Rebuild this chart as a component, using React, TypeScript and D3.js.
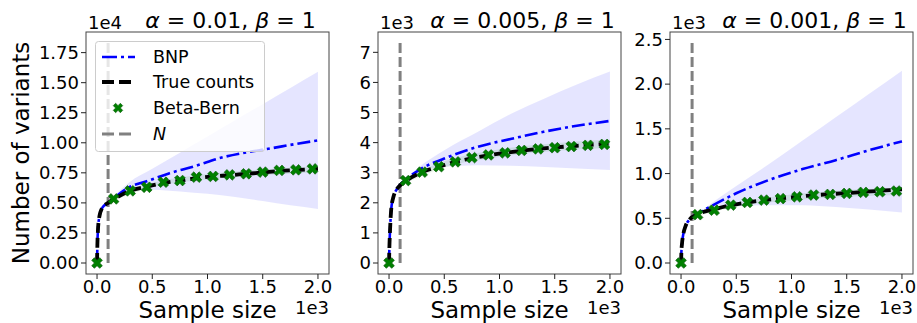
import * as d3 from 'd3';

type Pt = [number, number];
type Band = [number, number, number];

const W = 917;
const H = 323;
const FONT = 'DejaVu Sans, sans-serif';

// shared x data
const xTicks = [0, 500, 1000, 1500, 2000];
const markerN = [0, 150, 300, 450, 600, 750, 900, 1050, 1200, 1350, 1500, 1650, 1800, 1950];
const nTrain = 100;

// panel 1: alpha = 0.01
const p1True: Pt[] = [[0, 0], [3, 1500], [8, 2700], [18, 3700], [48, 4600], [100, 5000], [160, 5350], [300, 6000], [450, 6350], [600, 6650], [750, 6850], [900, 7050], [1050, 7200], [1200, 7300], [1350, 7420], [1500, 7530], [1650, 7650], [1800, 7730], [2000, 7830]];
const p1Bnp: Pt[] = [[0, 0], [3, 1500], [8, 2700], [18, 3700], [48, 4600], [100, 5000], [160, 5450], [290, 6300], [450, 6800], [650, 7450], [900, 8100], [1100, 8700], [1350, 9200], [1550, 9500], [1800, 9900], [2000, 10200]];
const p1Band: Band[] = [[120, 5150, 5150], [160, 5350, 5600], [290, 6000, 6700], [500, 6100, 7830], [750, 5950, 9180], [1000, 5750, 10520], [1250, 5500, 11870], [1500, 5150, 13210], [1750, 4800, 14560], [2000, 4500, 15900]];
const p1Bb: Band[] = [[150, 5200, 5450], [500, 6300, 6650], [1000, 6950, 7400], [1500, 7300, 7780], [2000, 7550, 8050]];
const p1Markers = [0, 5330, 6000, 6300, 6720, 6860, 7140, 7200, 7330, 7420, 7560, 7700, 7750, 7830];
const p1YTicks = [0, 2500, 5000, 7500, 10000, 12500, 15000, 17500];
const p1Top = 18300;

// panel 2: alpha = 0.005
const p2True: Pt[] = [[0, 0], [3, 500], [8, 1000], [20, 1800], [40, 2200], [70, 2450], [100, 2580], [157, 2740], [300, 3020], [450, 3200], [600, 3360], [750, 3480], [900, 3580], [1050, 3660], [1200, 3730], [1350, 3790], [1500, 3840], [1650, 3880], [1800, 3920], [2000, 3970]];
const p2Bnp: Pt[] = [[0, 0], [3, 500], [8, 1000], [20, 1800], [40, 2200], [70, 2450], [100, 2600], [160, 2800], [290, 3130], [500, 3470], [800, 3860], [1100, 4120], [1400, 4360], [1700, 4560], [2000, 4720]];
const p2Band: Band[] = [[150, 2780, 2780], [262, 3000, 3160], [500, 3200, 3750], [805, 3250, 4360], [1100, 3230, 4950], [1408, 3190, 5470], [1700, 3140, 5930], [2000, 3090, 6360]];
const p2Bb: Band[] = [[150, 2650, 2850], [500, 3170, 3380], [1000, 3520, 3780], [1500, 3720, 3980], [2000, 3820, 4100]];
const p2Markers = [0, 2740, 3020, 3200, 3360, 3500, 3590, 3660, 3740, 3790, 3830, 3870, 3910, 3940];
const p2YTicks = [0, 1000, 2000, 3000, 4000, 5000, 6000, 7000];
const p2Top = 7310;

// panel 3: alpha = 0.001
const p3True: Pt[] = [[0, 0], [3, 120], [9, 220], [20, 320], [40, 410], [80, 490], [150, 545], [300, 600], [450, 645], [600, 678], [750, 703], [900, 722], [1050, 740], [1200, 757], [1350, 770], [1500, 782], [1650, 795], [1800, 808], [2000, 825]];
const p3Bnp: Pt[] = [[0, 0], [3, 120], [9, 220], [20, 320], [40, 410], [80, 490], [150, 550], [295, 650], [500, 780], [800, 930], [1100, 1050], [1400, 1150], [1700, 1260], [2000, 1360]];
const p3Band: Band[] = [[150, 550, 550], [300, 600, 690], [500, 635, 860], [800, 647, 1110], [1100, 645, 1370], [1400, 625, 1630], [1700, 598, 1890], [2000, 564, 2150]];
const p3Bb: Band[] = [[150, 525, 560], [500, 630, 675], [1000, 700, 765], [1500, 740, 815], [2000, 760, 845]];
const p3Markers = [0, 540, 590, 647, 677, 703, 720, 740, 760, 767, 778, 790, 797, 805];
const p3YTicks = [0, 500, 1000, 1500, 2000, 2500];
const p3Top = 2460;

const panels = [
  { left: 86, alpha: '0.01', exp: 4, digits: 2, yTicks: p1YTicks, top: p1Top, trueC: p1True, bnp: p1Bnp, band: p1Band, bb: p1Bb, markers: p1Markers, legend: true },
  { left: 378, alpha: '0.005', exp: 3, digits: 0, yTicks: p2YTicks, top: p2Top, trueC: p2True, bnp: p2Bnp, band: p2Band, bb: p2Bb, markers: p2Markers, legend: false },
  { left: 670, alpha: '0.001', exp: 3, digits: 1, yTicks: p3YTicks, top: p3Top, trueC: p3True, bnp: p3Bnp, band: p3Band, bb: p3Bb, markers: p3Markers, legend: false },
];

const PW = 243;
const PT = 32;
const PB = 274;

const xMarker = d3.symbol(d3.symbolCross, 72)();
const xMarkerSmall = d3.symbol(d3.symbolCross, 56)();

function Panel({ p }: { p: typeof panels[number] }) {
  const x = d3.scaleLinear().domain([-100, 2100]).range([p.left, p.left + PW]);
  const pad = p.top * 0.05;
  const y = d3.scaleLinear().domain([-pad, p.top + pad]).range([PB, PT]);
  const line = d3.line<Pt>().x(d => x(d[0])).y(d => y(d[1])).curve(d3.curveMonotoneX);
  const area = d3.area<Band>().x(d => x(d[0])).y0(d => y(d[1])).y1(d => y(d[2])).curve(d3.curveMonotoneX);
  const cx = p.left + PW / 2;
  const scale = Math.pow(10, p.exp);

  return (
    <g fontFamily={FONT}>
      <path d={area(p.band) ?? ''} fill="blue" fillOpacity={0.1} />
      <path d={area(p.bb) ?? ''} fill="green" fillOpacity={0.1} />
      <line x1={x(nTrain)} x2={x(nTrain)} y1={y(0)} y2={y(p.top)} stroke="gray" strokeWidth={3} strokeDasharray="10,4" />
      <path d={line(p.bnp) ?? ''} fill="none" stroke="blue" strokeWidth={2.6} strokeDasharray="13,4,3,4" />
      <path d={line(p.trueC) ?? ''} fill="none" stroke="black" strokeWidth={3.8} strokeDasharray="10,5" />
      {markerN.map((n, i) => (
        <path key={n} d={xMarker ?? ''} transform={`translate(${x(n)},${y(p.markers[i])}) rotate(45)`} fill="green" stroke="#0a5a0a" strokeWidth={0.6} />
      ))}

      <rect x={p.left} y={PT} width={PW} height={PB - PT} fill="none" stroke="#444" strokeWidth={1} />

      {xTicks.map(t => (
        <g key={t}>
          <line x1={x(t)} x2={x(t)} y1={PB} y2={PB + 5} stroke="#222" />
          <text x={x(t)} y={293} textAnchor="middle" fontSize={18} fill="black">{(t / 1000).toFixed(1)}</text>
        </g>
      ))}
      {p.yTicks.map(t => (
        <g key={t}>
          <line x1={p.left - 5} x2={p.left} y1={y(t)} y2={y(t)} stroke="#222" />
          <text x={p.left - 7} y={y(t)} dy="0.35em" textAnchor="end" fontSize={18} fill="black">{(t / scale).toFixed(p.digits)}</text>
        </g>
      ))}

      <text x={p.left + 2} y={29} fontSize={18} fill="black">{`1e${p.exp}`}</text>
      <text x={p.left + PW} y={314} textAnchor="end" fontSize={18} fill="black">1e3</text>
      <text x={cx} y={318} textAnchor="middle" fontSize={23} fill="black">Sample size</text>
      <text x={cx + 23} y={28} textAnchor="middle" fontSize={22} fill="black">
        <tspan fontStyle="italic">α</tspan>{` = ${p.alpha}, `}<tspan fontStyle="italic">β</tspan>{' = 1'}
      </text>

      {p.legend && <Legend />}
    </g>
  );
}

const legendItems = ['BNP', 'True counts', 'Beta-Bern', 'N'];

function Legend() {
  const rows = [57, 82, 108, 134];
  return (
    <g>
      <rect x={95.5} y={41.5} width={169} height={110} rx={3} fill="white" fillOpacity={0.8} stroke="#ccc" />
      <line x1={102} x2={135} y1={rows[0]} y2={rows[0]} stroke="blue" strokeWidth={2.6} strokeDasharray="15,4,3,4" />
      <line x1={102} x2={135} y1={rows[1]} y2={rows[1]} stroke="black" strokeWidth={3.8} strokeDasharray="12,5" />
      <path d={xMarkerSmall ?? ''} transform={`translate(118,${rows[2]}) rotate(45)`} fill="green" stroke="#0a5a0a" strokeWidth={0.6} />
      <line x1={102} x2={135} y1={rows[3]} y2={rows[3]} stroke="gray" strokeWidth={3} strokeDasharray="12,5" />
      {legendItems.map((s, i) => (
        <text key={s} x={153} y={rows[i]} dy="0.35em" fontSize={17.5} fill="black" fontStyle={s === 'N' ? 'italic' : 'normal'}>{s}</text>
      ))}
    </g>
  );
}

export default function App() {
  return (
    <div style={{ position: 'absolute', left: 0, top: 0 }}>
      <svg width={W} height={H} style={{ display: 'block', background: 'white' }}>
        <text transform="translate(29,153) rotate(-90)" textAnchor="middle" fontSize={23} fontFamily={FONT} fill="black">Number of variants</text>
        {panels.map(p => <Panel key={p.left} p={p} />)}
      </svg>
    </div>
  );
}
